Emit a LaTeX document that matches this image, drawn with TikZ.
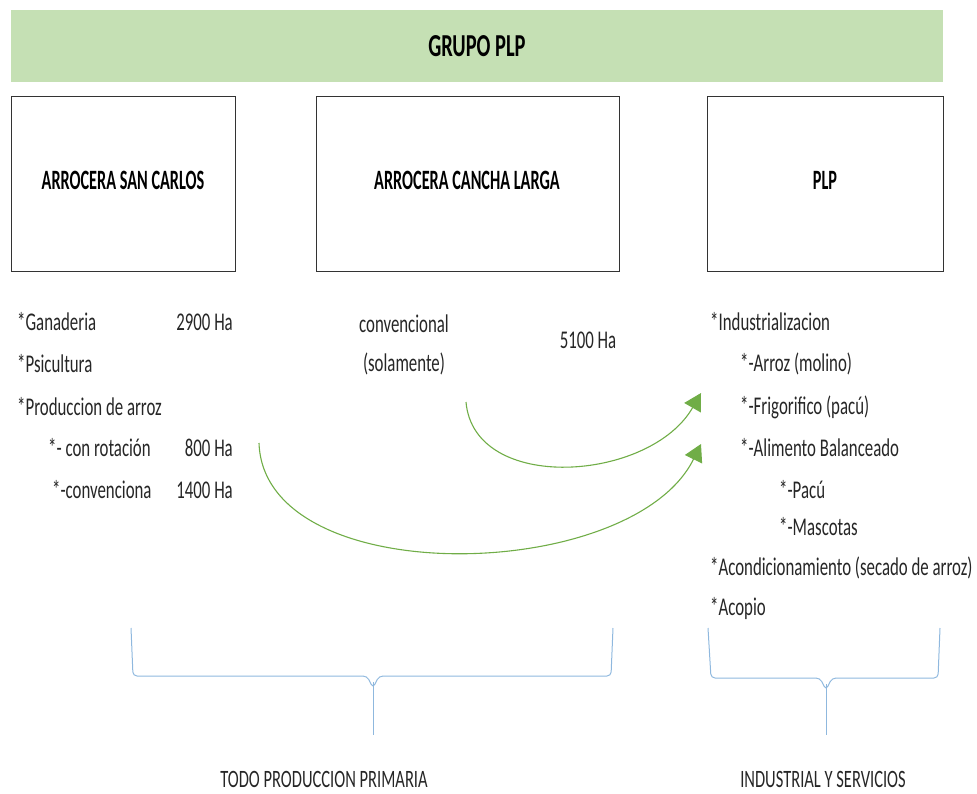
\documentclass[tikz,border=0pt]{standalone}
\usepackage{fontspec}
\setmainfont{Carlito}[FakeStretch=0.66]
\newfontfamily\titlefont{Carlito}[FakeStretch=0.58]
\newfontfamily\bannerfont{Carlito}[FakeStretch=0.64]
\usepackage{tikz}
\usetikzlibrary{arrows.meta,positioning}

\definecolor{bannergreen}{HTML}{C5E0B4}
\definecolor{arrowgreen}{HTML}{70AD47}
\definecolor{braceblue}{HTML}{8FB8DE}
\definecolor{txtgray}{HTML}{262626}

\tikzset{
  unitbox/.style={draw=black!80,line width=1pt},
  boxtitle/.style={font=\titlefont\fontsize{28}{30}\selectfont\bfseries,text=black},
  item/.style={anchor=west,inner sep=0pt,font=\fontsize{25.5}{28}\selectfont,text=txtgray},
  area/.style={anchor=east,inner sep=0pt,font=\fontsize{25.5}{28}\selectfont,text=txtgray},
  flow/.style={arrowgreen,line width=1.1pt,-{Triangle[width=19pt,length=17pt]}},
  groupbrace/.style={braceblue,line width=1pt,rounded corners=4pt},
  plain/.style={inner sep=0pt,font=\fontsize{25.5}{28}\selectfont,text=txtgray},
  footer/.style={inner sep=0pt,font=\fontsize{25}{28}\selectfont,text=txtgray}
}

\begin{document}
\begin{tikzpicture}[x=1pt,y=-1pt]
\useasboundingbox (0,0) rectangle (977,794);

% Header
\fill[bannergreen] (11,10) rectangle (943,82);
\node[font=\bannerfont\fontsize{32}{34}\selectfont\bfseries] (grupo) at (477,46) {GRUPO PLP};

% Companies
\draw[unitbox] (11,97) rectangle (235,272);
\draw[unitbox] (316,97) rectangle (619,272);
\draw[unitbox] (707,97) rectangle (943,272);
\node[boxtitle] (sancarlos) at (123,180) {ARROCERA SAN CARLOS};
\node[boxtitle] (canchalarga) at (467,180) {ARROCERA CANCHA LARGA};
\node[boxtitle] (plp) at (825,180) {PLP};

% San Carlos activities
\node[item] (ganaderia) at (17,322) {*Ganaderia};
\node[area] (ha2900) at (233,322) {2900 Ha};
\node[item] (psicultura) at (17,364) {*Psicultura};
\node[item] (produccion) at (17,407) {*Produccion de arroz};
\node[item] (rotacion) at (48,448) {*- con rotación};
\node[area] (ha800) at (233,448) {800 Ha};
\node[item] (convenciona) at (52,490) {*-convenciona};
\node[area] (ha1400) at (233,490) {1400 Ha};

% Cancha Larga activities
\node[plain] (convencional) at (404,324) {convencional};
\node[plain] (solamente) at (404,364) {(solamente)};
\node[plain] (ha5100) at (588,340) {5100 Ha};

% PLP activities
\node[item] (industrial) at (710,322) {*Industrializacion};
\node[item] (molino) at (740,364) {*-Arroz (molino)};
\node[item] (frigorifico) at (740,407) {*-Frigorifico (pacú)};
\node[item] (alimento) at (740,448) {*-Alimento Balanceado};
\node[item] (pacu) at (779,490) {*-Pacú};
\node[item] (mascotas) at (779,527) {*-Mascotas};
\node[item] (acond) at (710,568) {*Acondicionamiento (secado de arroz)};
\node[item] (acopio) at (710,608) {*Acopio};

% Flows
\coordinate (fromcl) at (466,402);
\coordinate (fromsc) at (259,443);
\coordinate (tofrig) at (701,393);
\coordinate (toalim) at (701,444);
\draw[flow] (fromcl) .. controls (474,494) and (650,482) .. (tofrig);
\draw[flow] (fromsc) .. controls (264,592) and (632,584) .. (toalim);

% Braces
\coordinate (primtip) at (373,735);
\coordinate (indtip) at (826,735);
\draw[groupbrace] (131,628) -- (133,676) -- (367,676) -- (373,688) -- (379,676) -- (611,676) -- (613,628);
\draw[braceblue,line width=1pt] (373,682) -- (primtip);
\draw[groupbrace] (708,628) -- (711,678) -- (820,678) -- (826,690) -- (832,678) -- (938,678) -- (940,628);
\draw[braceblue,line width=1pt] (826,684) -- (indtip);

% Labels
\node[footer] (primaria) at (324,779) {TODO PRODUCCION PRIMARIA};
\node[footer] (servicios) at (823,779) {INDUSTRIAL Y SERVICIOS};
\end{tikzpicture}
\end{document}
